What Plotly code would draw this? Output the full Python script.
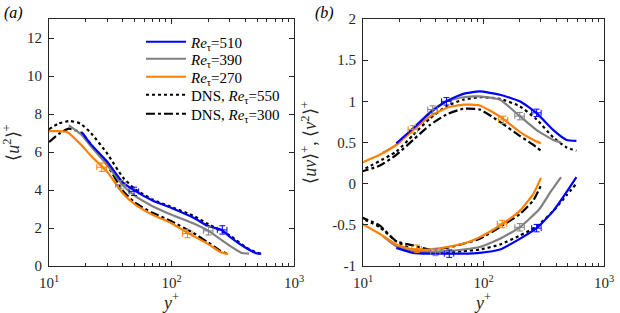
import plotly.graph_objects as go
from plotly.subplots import make_subplots

# ---------------- data ----------------
# Panel (a): <u^2>+
u2_510_y = [18.5, 22, 30, 40, 50, 70, 100, 150, 200, 260, 300, 400, 500, 540]
u2_510_v = [7.05, 6.4, 5.47, 4.4, 3.97, 3.45, 3.05, 2.55, 2.1, 1.88, 1.53, 0.97, 0.66, 0.65]
u2_390_y = [14.5, 18.5, 22, 30, 40, 50, 70, 100, 150, 200, 300, 370, 430]
u2_390_v = [7.4, 6.9, 6.3, 5.3, 4.25, 3.7, 3.15, 2.7, 2.25, 1.85, 1.06, 0.7, 0.65]
u2_270_y = [10, 12, 14, 18.5, 22, 30, 40, 50, 70, 100, 135, 200, 250, 290]
u2_270_v = [7.1, 7.1, 7.05, 6.35, 5.8, 4.94, 3.83, 3.26, 2.7, 2.25, 1.75, 1.15, 0.74, 0.63]
u2_d550_y = [10, 12, 14.8, 18, 22, 30, 40, 50, 70, 100, 150, 200, 300, 400, 500, 540]
u2_d550_v = [7.2, 7.5, 7.63, 7.5, 7.0, 5.9, 4.67, 4.06, 3.5, 3.1, 2.65, 2.2, 1.6, 1.0, 0.7, 0.65]
u2_d300_y = [10, 12, 14.5, 18.5, 22, 30, 40, 50, 70, 100, 150, 200, 250, 290]
u2_d300_v = [6.52, 6.95, 7.23, 7.0, 6.4, 5.3, 3.97, 3.35, 2.8, 2.35, 1.75, 1.23, 0.8, 0.63]

# Panel (b): <v^2>+ (upper) and <uv>+ (lower)
v2_510_y = [18.9, 26, 35.8, 49.3, 67.8, 93, 137, 200, 276, 380, 490, 590]
v2_510_v = [0.49, 0.67, 0.857, 1.0, 1.09, 1.12, 1.08, 1.0, 0.857, 0.65, 0.53, 0.52]
v2_390_y = [14.7, 18.9, 26, 37.9, 49.3, 67.8, 93, 137, 200, 276, 380, 440]
v2_390_v = [0.375, 0.47, 0.67, 0.9, 1.0, 1.05, 1.06, 1.02, 0.82, 0.65, 0.53, 0.5]
v2_270_y = [9.4, 13.8, 18.9, 26, 35.8, 49.3, 67.8, 93, 137, 200, 260, 300]
v2_270_v = [0.245, 0.35, 0.47, 0.65, 0.815, 0.92, 0.96, 0.95, 0.815, 0.63, 0.53, 0.49]
v2_d550_y = [9.4, 18.9, 26, 35.8, 49.3, 67.8, 93, 137, 200, 276, 380, 490, 590]
v2_d550_v = [0.15, 0.39, 0.59, 0.79, 0.94, 1.02, 1.05, 1.03, 0.94, 0.78, 0.56, 0.44, 0.40]
v2_d300_y = [9.4, 13.8, 18.9, 26, 35.8, 49.3, 67.8, 93, 137, 200, 260, 300]
v2_d300_v = [0.14, 0.22, 0.35, 0.53, 0.71, 0.84, 0.91, 0.90, 0.75, 0.58, 0.47, 0.40]

uv_510_y = [18.9, 26, 35.8, 49.3, 67.8, 93, 137, 200, 276, 380, 490, 590]
uv_510_v = [-0.78, -0.84, -0.85, -0.85, -0.85, -0.84, -0.80, -0.67, -0.54, -0.33, -0.1, 0.08]
uv_390_y = [14.7, 18.9, 26, 35.8, 49.3, 67.8, 93, 137, 200, 290, 360, 440]
uv_390_v = [-0.64, -0.76, -0.82, -0.83, -0.82, -0.80, -0.77, -0.67, -0.53, -0.31, -0.1, 0.08]
uv_270_y = [9.4, 13.8, 18.9, 26, 35.8, 49.3, 67.8, 93, 143, 200, 260, 300]
uv_270_v = [-0.47, -0.61, -0.74, -0.8, -0.8, -0.77, -0.73, -0.65, -0.49, -0.33, -0.12, 0.07]
uv_d550_y = [9.4, 13.8, 18.9, 26, 35.8, 49.3, 67.8, 93, 137, 200, 276, 380, 490, 590]
uv_d550_v = [-0.41, -0.53, -0.70, -0.8, -0.84, -0.84, -0.82, -0.80, -0.74, -0.63, -0.52, -0.33, -0.14, 0.0]
uv_d300_y = [9.4, 13.8, 18.9, 26, 35.8, 49.3, 67.8, 93, 143, 200, 260, 300]
uv_d300_v = [-0.4, -0.51, -0.70, -0.75, -0.8, -0.78, -0.73, -0.67, -0.51, -0.37, -0.2, -0.02]

# error-bar markers
mk_u2_510 = ([49.5, 260], [3.93, 1.9])
mk_u2_390 = ([38.5, 200], [4.28, 1.85])
mk_u2_270 = ([27, 135], [5.2, 1.71])
mk_v2_510 = ([49.3, 276], [1.0, 0.86])
mk_v2_390 = ([37.9, 200], [0.9, 0.82])
mk_v2_270 = ([26, 146], [0.66, 0.775])
mk_uv_510 = ([52, 276], [-0.85, -0.54])
mk_uv_390 = ([40, 200], [-0.83, -0.53])
mk_uv_270 = ([28, 143], [-0.79, -0.49])

xticks = [10, 100, 1000]
xticktext = ["10<sup>1</sup>", "10<sup>2</sup>", "10<sup>3</sup>"]
xminor = [20, 30, 40, 50, 60, 70, 80, 90, 200, 300, 400, 500, 600, 700, 800, 900]
ya_ticks = [0, 2, 4, 6, 8, 10, 12]
yb_ticks = [-1, -0.5, 0, 0.5, 1, 1.5, 2]
yb_text = ["-1", "-0.5", "0", "0.5", "1", "1.5", "2"]

BLUE = "#0000FF"
GRAY = "#808080"
ORANGE = "#FF8000"
FONT = "Liberation Serif"
AX = "#262626"

W, H = 620, 313
def px(x):
    return x / W
def py(y):
    return 1 - y / H

fig = make_subplots(rows=1, cols=2)

def line(x, y, color, dash, col):
    fig.add_trace(go.Scatter(x=x, y=y, mode="lines", showlegend=False,
                             line=dict(color=color, width=2.2, dash=dash, shape="spline", smoothing=0.5)),
                  row=1, col=col)

def marks(m, color, col, ey):
    fig.add_trace(go.Scatter(x=m[0], y=m[1], mode="markers", showlegend=False,
                             marker=dict(size=1, color=color),
                             error_x=dict(type="percent", value=9, color=color, thickness=1, width=3),
                             error_y=dict(type="constant", value=ey, color=color, thickness=1, width=3)),
                  row=1, col=col)

legend_labels = ["<i>Re</i><sub>τ</sub>=510", "<i>Re</i><sub>τ</sub>=390", "<i>Re</i><sub>τ</sub>=270",
                 "DNS, <i>Re</i><sub>τ</sub>=550", "DNS, <i>Re</i><sub>τ</sub>=300"]
legend_styles = [(BLUE, "solid"), (GRAY, "solid"), (ORANGE, "solid"), ("black", "dot"), ("black", "dashdot")]
legend_rows = [42, 59, 77, 95, 114]

# panel a
line(u2_d550_y, u2_d550_v, "black", "dot", 1)
line(u2_d300_y, u2_d300_v, "black", "dashdot", 1)
line(u2_390_y, u2_390_v, GRAY, "solid", 1)
line(u2_270_y, u2_270_v, ORANGE, "solid", 1)
line(u2_510_y, u2_510_v, BLUE, "solid", 1)
marks(mk_u2_510, BLUE, 1, 0.22)
marks(mk_u2_390, GRAY, 1, 0.22)
marks(mk_u2_270, ORANGE, 1, 0.22)

# legend entries (one legend per row to match the row spacing)
for i, (nm, (c, d)) in enumerate(zip(legend_labels, legend_styles)):
    lg = "legend" if i == 0 else "legend%d" % (i + 1)
    fig.add_trace(go.Scatter(x=[None], y=[None], mode="lines", name=nm, legend=lg,
                             line=dict(color=c, width=2.2, dash=d)), row=1, col=1)

# panel b
for (yy, vv, c, d) in [(v2_d550_y, v2_d550_v, "black", "dot"), (v2_d300_y, v2_d300_v, "black", "dashdot"),
                       (uv_d550_y, uv_d550_v, "black", "dot"), (uv_d300_y, uv_d300_v, "black", "dashdot"),
                       (v2_390_y, v2_390_v, GRAY, "solid"), (uv_390_y, uv_390_v, GRAY, "solid"),
                       (v2_270_y, v2_270_v, ORANGE, "solid"), (uv_270_y, uv_270_v, ORANGE, "solid"),
                       (v2_510_y, v2_510_v, BLUE, "solid"), (uv_510_y, uv_510_v, BLUE, "solid")]:
    line(yy, vv, c, d, 2)
for m, c in [(mk_v2_510, BLUE), (mk_v2_390, GRAY), (mk_v2_270, ORANGE),
             (mk_uv_510, BLUE), (mk_uv_390, GRAY), (mk_uv_270, ORANGE)]:
    marks(m, c, 2, 0.045)

axis_common = dict(showline=True, linecolor=AX, linewidth=1, mirror="ticks", automargin=False,
                   ticks="inside", ticklen=5, tickcolor=AX, showgrid=False, zeroline=False,
                   tickfont=dict(family=FONT, size=15, color=AX))
xcommon = dict(axis_common, type="log", range=[1, 3], tickvals=xticks, ticktext=xticktext,
               ticklabelstandoff=3,
               minor=dict(ticks="inside", ticklen=3, tickcolor=AX, showgrid=False, tickvals=xminor),
               title=dict(text="<i>y</i><sup>+</sup>", font=dict(family=FONT, size=18, color=AX), standoff=9))

fig.update_xaxes(xcommon, row=1, col=1)
fig.update_xaxes(xcommon, row=1, col=2)
fig.update_xaxes(domain=[px(49), px(294)], row=1, col=1)
fig.update_xaxes(domain=[px(363), px(604)], row=1, col=2)
ydom = [py(266), py(19)]
fig.update_yaxes(axis_common, range=[0, 13], tickvals=ya_ticks, domain=ydom, ticklabelstandoff=3,
                 title=dict(text="⟨<i>u</i><sup>2</sup>⟩<sup>+</sup>", font=dict(family=FONT, size=18, color=AX), standoff=6),
                 row=1, col=1)
fig.update_yaxes(axis_common, range=[-1, 2], tickvals=yb_ticks, ticktext=yb_text, domain=ydom, ticklabelstandoff=3,
                 title=dict(text="⟨<i>uv</i>⟩<sup>+</sup>, ⟨<i>v</i><sup>2</sup>⟩<sup>+</sup>", font=dict(family=FONT, size=18, color=AX), standoff=10),
                 row=1, col=2)

fig.add_annotation(text="<i>(a)</i>", x=px(2), y=py(2), xref="paper", yref="paper", xanchor="left", yanchor="top",
                   showarrow=False, font=dict(family=FONT, size=16, color="black"))
fig.add_annotation(text="<i>(b)</i>", x=px(313), y=py(2), xref="paper", yref="paper", xanchor="left", yanchor="top",
                   showarrow=False, font=dict(family=FONT, size=16, color="black"))

layout_legends = {}
for i, r in enumerate(legend_rows):
    key = "legend" if i == 0 else "legend%d" % (i + 1)
    layout_legends[key] = dict(x=px(141), y=py(r), xanchor="left", yanchor="middle",
                               bgcolor="rgba(0,0,0,0)", borderwidth=0, itemwidth=40,
                               font=dict(family=FONT, size=15, color="black"))

fig.update_layout(width=W, height=H, margin=dict(l=0, r=0, t=0, b=0),
                  paper_bgcolor="white", plot_bgcolor="white", **layout_legends)
fig.write_html("out.html", config={"displayModeBar": False},
               post_script="document.body.style.margin='0px';")
